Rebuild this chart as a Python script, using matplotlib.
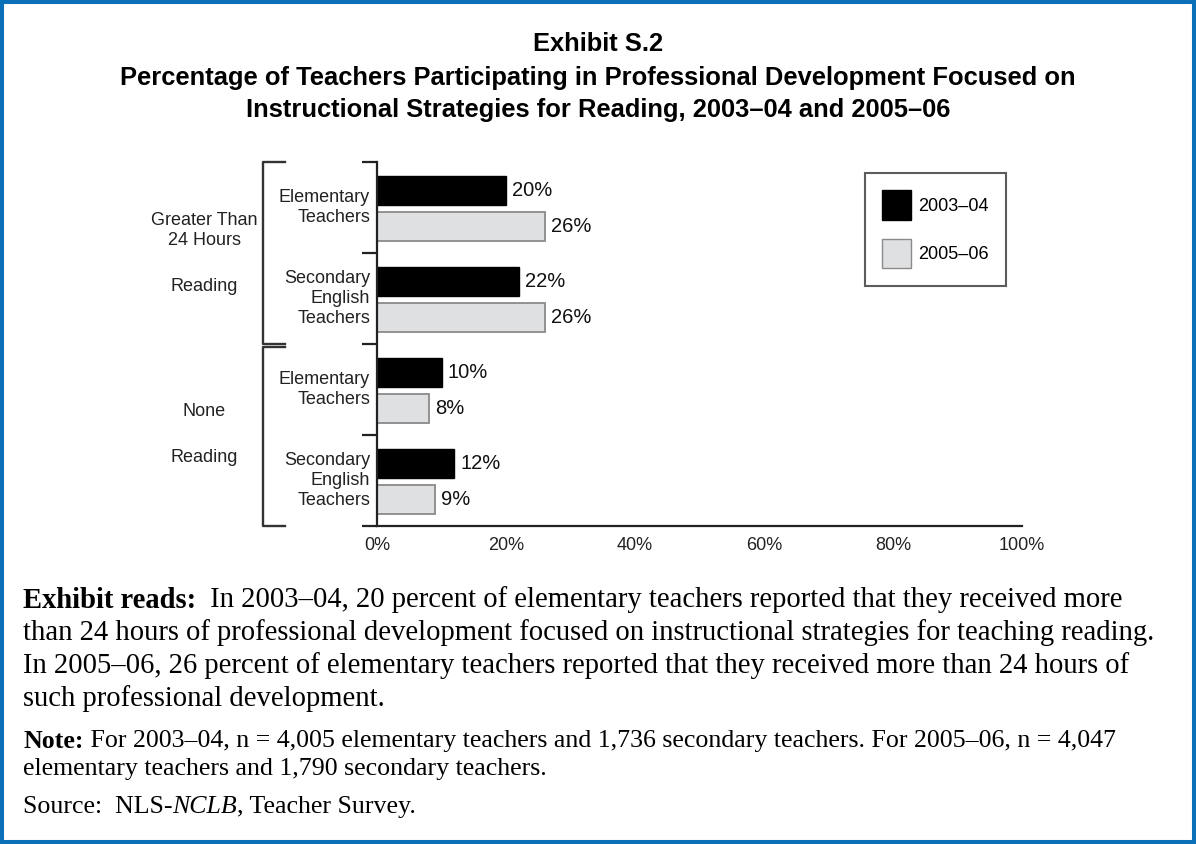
import matplotlib
matplotlib.use("Agg")
import matplotlib.pyplot as plt
from matplotlib.patches import Rectangle, Patch

# data
groups = ["Elementary\nTeachers", "Secondary\nEnglish\nTeachers",
          "Elementary\nTeachers", "Secondary\nEnglish\nTeachers"]
vals_0304 = [20, 22, 10, 12]
vals_0506 = [26, 26, 8, 9]
series = ["2003\u201304", "2005\u201306"]
xticks = [0, 20, 40, 60, 80, 100]
xticklabels = ["0%", "20%", "40%", "60%", "80%", "100%"]
outer_labels = ["Greater Than\n24 Hours", "Reading", "None", "Reading"]

W, H = 1196, 844
fig = plt.figure(figsize=(W / 100, H / 100), dpi=100)
plt.rcParams['font.family'] = ['Liberation Sans', 'DejaVu Sans']

def fx(px):
    return px / W

def fy(py):
    return 1 - py / H

# blue frame
fig.patches.append(Rectangle((0, 0), 1, 1, transform=fig.transFigure, fill=False,
                             edgecolor="#0b70b8", linewidth=5.8, zorder=10))

# title
tsize = 18.4
fig.text(0.5, fy(44), "Exhibit S.2", ha="center", va="center", fontsize=tsize, fontweight="bold")
fig.text(0.5, fy(78), "Percentage of Teachers Participating in Professional Development Focused on",
         ha="center", va="center", fontsize=tsize, fontweight="bold")
fig.text(0.5, fy(110), "Instructional Strategies for Reading, 2003\u201304 and 2005\u201306",
         ha="center", va="center", fontsize=tsize, fontweight="bold")

# chart
ax = fig.add_axes([fx(377), fy(526), fx(1022 - 377), (526 - 162) / H])
y = list(range(len(groups)))
yb = [i - 0.19 for i in y]
yg = [i + 0.21 for i in y]
ax.barh(yb, vals_0304, height=0.32, color="black", edgecolor="black", linewidth=1)
ax.barh(yg, vals_0506, height=0.32, color="#dfe0e2", edgecolor="#8a8a8a", linewidth=1.3)
for yy, v in zip(yb, vals_0304):
    ax.annotate(f"{v}%", (v, yy), xytext=(4.5, 0), textcoords="offset points",
                va="center", ha="left", fontsize=14.5, color="#111")
for yy, v in zip(yg, vals_0506):
    ax.annotate(f"{v}%", (v, yy), xytext=(4.5, 0), textcoords="offset points",
                va="center", ha="left", fontsize=14.5, color="#111")

ax.set_xlim(0, 100)
ax.set_ylim(3.5, -0.5)
ax.set_xticks(xticks)
ax.set_xticklabels(xticklabels, fontsize=13, color="#222")
ax.tick_params(axis="x", length=0, pad=8)
ax.set_yticks([-0.5, 0.5, 1.5, 2.5, 3.5])
ax.set_yticklabels([])
ax.tick_params(axis="y", length=11, width=1.6, color="#222", direction="out")
for s in ["top", "right"]:
    ax.spines[s].set_visible(False)
for s in ["left", "bottom"]:
    ax.spines[s].set_linewidth(1.6)
    ax.spines[s].set_color("#222")

tr = ax.get_yaxis_transform()
for i, g in enumerate(groups):
    ax.text(-7 / 645, i, g, transform=tr, ha="right", va="center",
            fontsize=13, color="#222", linespacing=1.2)

# outer brackets
bx0, bx1 = (263 - 377) / 645, (285 - 377) / 645
for top, bot in [(-0.5, 1.5), (1.53, 3.5)]:
    ax.plot([bx1, bx0, bx0, bx1], [top, top, bot, bot], transform=tr,
            color="#333", linewidth=1.7, clip_on=False)

ox = (204 - 377) / 645
for lab, yy in zip(outer_labels, [0.253, 0.863, 2.247, 2.742]):
    ax.text(ox, yy, lab, transform=tr, ha="center", va="center",
            fontsize=13, color="#222", linespacing=1.2)

# legend
handles = [Patch(facecolor="black", edgecolor="black"),
           Patch(facecolor="#dfe0e2", edgecolor="#8a8a8a")]
leg = fig.legend(handles, series, loc="upper left", bbox_to_anchor=(fx(865), fy(173)),
                 borderaxespad=0, fontsize=13, frameon=True, fancybox=False,
                 handlelength=1.6, handleheight=2.15, handletextpad=0.4,
                 labelspacing=1.05, borderpad=0.95)
leg.get_frame().set_edgecolor("#333")
leg.get_frame().set_linewidth(1.5)

# notes below the chart, drawn run by run
renderer = fig.canvas.get_renderer()
serif = ['Liberation Serif', 'DejaVu Serif']

def runs(x0, ypx, parts, size):
    x = x0
    for txt, weight, style in parts:
        t = fig.text(fx(x), fy(ypx), txt, ha="left", va="center", fontsize=size,
                     fontweight=weight, fontstyle=style, family=serif)
        bb = t.get_window_extent(renderer=renderer)
        x += bb.width

body = 20.6
small = 18.6
runs(23, 600, [("Exhibit reads:", "bold", "normal"),
               ("  In 2003\u201304, 20 percent of elementary teachers reported that they received more",
                "normal", "normal")], body)
runs(23, 633, [("than 24 hours of professional development focused on instructional strategies for teaching reading.",
                "normal", "normal")], body)
runs(23, 666, [("In 2005\u201306, 26 percent of elementary teachers reported that they received more than 24 hours of",
                "normal", "normal")], body)
runs(23, 699, [("such professional development.", "normal", "normal")], body)
runs(23, 741, [("Note:", "bold", "normal"),
               (" For 2003\u201304, n = 4,005 elementary teachers and 1,736 secondary teachers. For 2005\u201306, n = 4,047",
                "normal", "normal")], small)
runs(23, 769, [("elementary teachers and 1,790 secondary teachers.", "normal", "normal")], small)
runs(23, 807, [("Source:  NLS-", "normal", "normal"), ("NCLB", "normal", "italic"),
               (", Teacher Survey.", "normal", "normal")], small)

fig.savefig("out.png", dpi=100)
